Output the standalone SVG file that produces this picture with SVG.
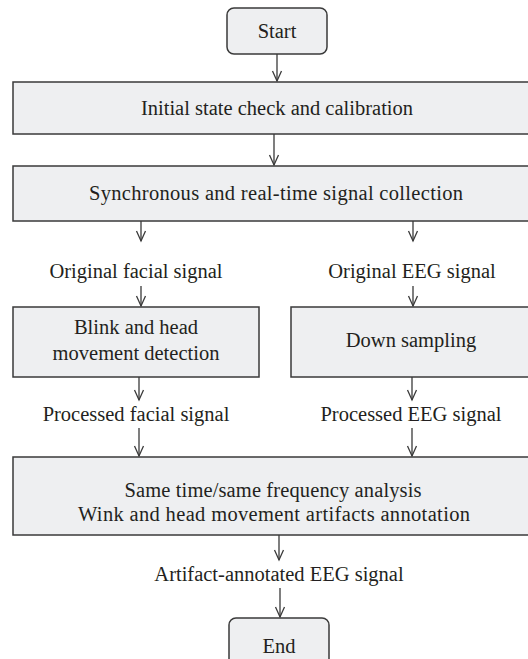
<svg xmlns="http://www.w3.org/2000/svg" width="528" height="659" viewBox="0 0 528 659">
<style>
.box{fill:#eeeff1;stroke:#3a3a3a;stroke-width:1.5}
.t{font-family:'Liberation Serif','Tinos','Times New Roman','DejaVu Serif',serif;font-size:20.5px;fill:#231f20;text-anchor:middle}
.c{stroke:#3a3a3a;stroke-width:1.3;fill:none}
</style>
<defs>
<marker id="ah" markerUnits="userSpaceOnUse" markerWidth="14" markerHeight="12" viewBox="-12 -6 14 12" refX="0" refY="0" orient="auto" overflow="visible">
<path d="M-10,-4.5 L0,0 L-10,4.5" fill="none" stroke="#3a3a3a" stroke-width="1.3"/>
</marker>
</defs>
<g id="connectors">
<line class="c" x1="277" y1="54" x2="277" y2="81" marker-end="url(#ah)"/>
<line class="c" x1="274" y1="134" x2="274" y2="165" marker-end="url(#ah)"/>
<line class="c" x1="141" y1="221" x2="141" y2="241" marker-end="url(#ah)"/>
<line class="c" x1="413" y1="221" x2="413" y2="241" marker-end="url(#ah)"/>
<line class="c" x1="141" y1="286" x2="141" y2="306" marker-end="url(#ah)"/>
<line class="c" x1="413" y1="286" x2="413" y2="306" marker-end="url(#ah)"/>
<line class="c" x1="139" y1="377" x2="139" y2="400" marker-end="url(#ah)"/>
<line class="c" x1="412" y1="377" x2="412" y2="400" marker-end="url(#ah)"/>
<line class="c" x1="139" y1="428" x2="139" y2="456" marker-end="url(#ah)"/>
<line class="c" x1="412" y1="428" x2="412" y2="456" marker-end="url(#ah)"/>
<line class="c" x1="279" y1="535" x2="279" y2="560" marker-end="url(#ah)"/>
<line class="c" x1="280" y1="588" x2="280" y2="617" marker-end="url(#ah)"/>
</g>
<g id="start">
<rect class="box" x="227" y="8" width="100" height="46" rx="7"/>
<text class="t" x="277" y="38">Start</text>
</g>
<g id="calibration">
<rect class="box" x="13" y="82" width="530" height="52"/>
<text class="t" x="277" y="115">Initial state check and calibration</text>
</g>
<g id="collection">
<rect class="box" x="13" y="166" width="530" height="55"/>
<text class="t" x="276" y="200" textLength="374">Synchronous and real-time signal collection</text>
</g>
<g id="orig-facial">
<text class="t" x="136" y="278">Original facial signal</text>
</g>
<g id="orig-eeg">
<text class="t" x="412" y="278">Original EEG signal</text>
</g>
<g id="blink">
<rect class="box" x="13" y="307" width="246" height="70"/>
<text class="t" x="136" y="334">Blink and head</text>
<text class="t" x="136" y="360">movement detection</text>
</g>
<g id="downsampling">
<rect class="box" x="291" y="307" width="250" height="70"/>
<text class="t" x="411" y="347">Down sampling</text>
</g>
<g id="proc-facial">
<text class="t" x="136" y="421">Processed facial signal</text>
</g>
<g id="proc-eeg">
<text class="t" x="411" y="421">Processed EEG signal</text>
</g>
<g id="analysis">
<rect class="box" x="13" y="457" width="530" height="78"/>
<text class="t" x="273" y="497" textLength="297">Same time/same frequency analysis</text>
<text class="t" x="274" y="521" textLength="392">Wink and head movement artifacts annotation</text>
</g>
<g id="annotated">
<text class="t" x="279" y="581">Artifact-annotated EEG signal</text>
</g>
<g id="end">
<rect class="box" x="229" y="618" width="100" height="52" rx="7"/>
<text class="t" x="279" y="653">End</text>
</g>
</svg>
